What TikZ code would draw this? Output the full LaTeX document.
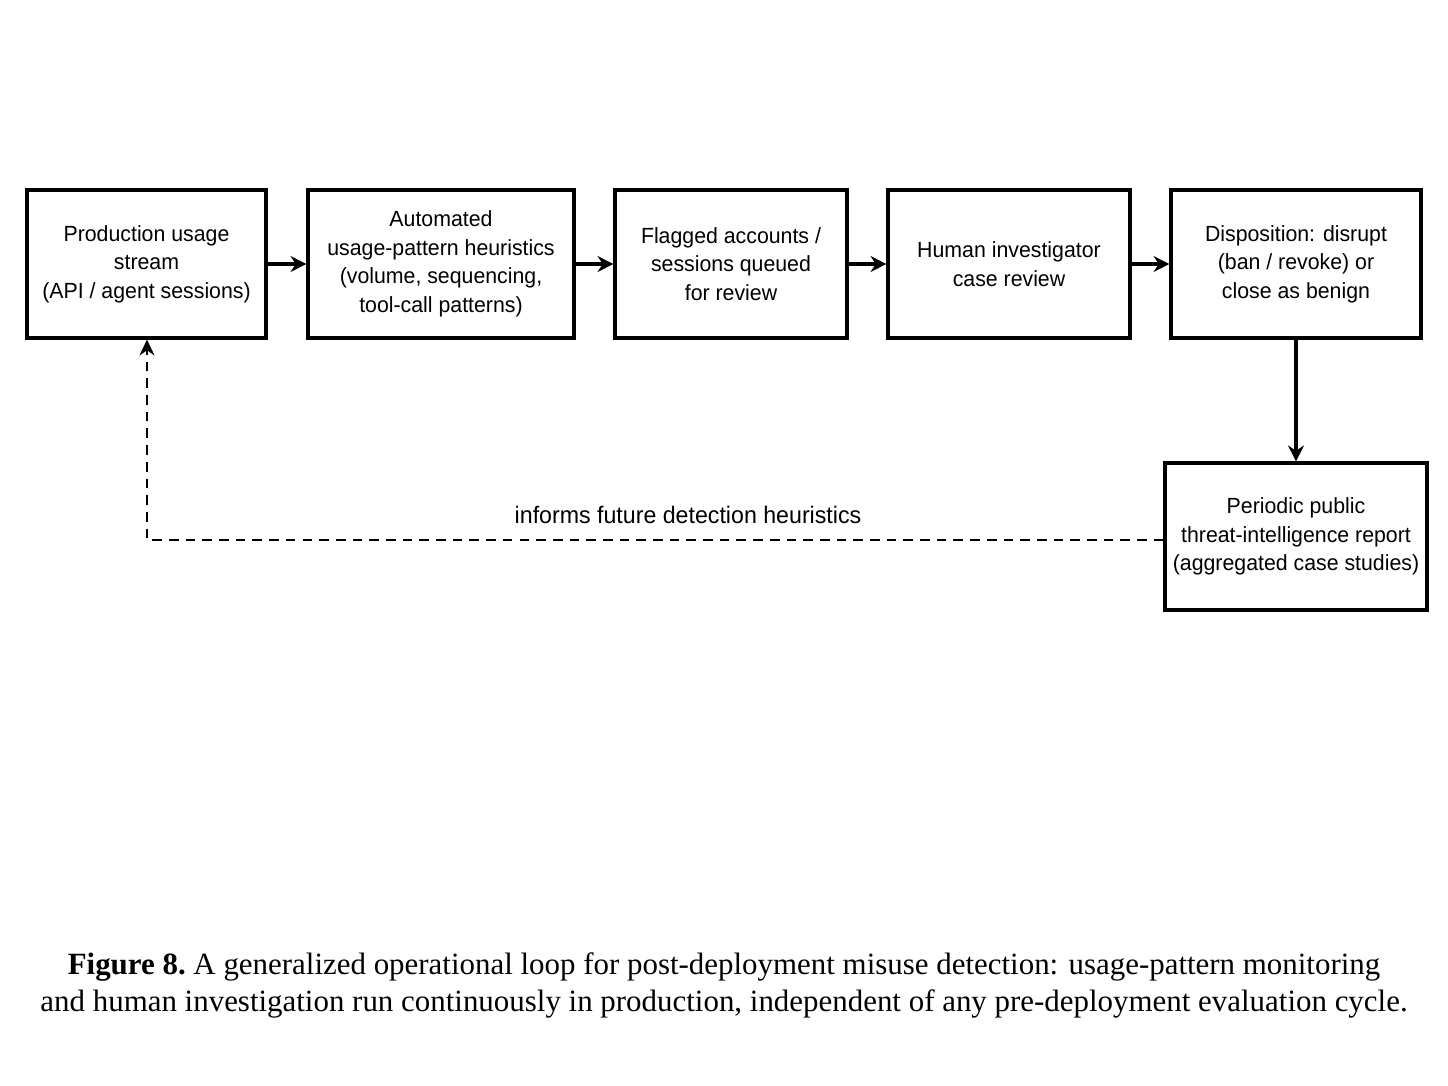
\documentclass[tikz,border=0pt]{standalone}
\usepackage{fontspec}
\setmainfont{Liberation Serif}
\setsansfont{Liberation Sans}[FakeStretch=0.97]
\usetikzlibrary{arrows.meta}
\begin{document}
\begin{tikzpicture}[x=0.02cm,y=-0.02cm,
  stagebox/.style={draw, line width=1.8pt, rectangle, align=center, inner sep=0pt,
    font=\sffamily\fontsize{12.5}{16.2}\selectfont},
  flow/.style={line width=1.8pt, -{Stealth[length=9pt,width=9pt]}},
  feedback/.style={line width=1.1pt, dash pattern=on 5.5pt off 4pt, -{Stealth[length=9pt,width=8.5pt]}}]
\useasboundingbox[fill=white] (0,0) rectangle (1448,1086);
\node[stagebox, minimum width=239*0.02cm, minimum height=148*0.02cm] (b1) at (146.5,264) {Production usage\\stream\\(API / agent sessions)};
\node[stagebox, minimum width=266*0.02cm, minimum height=148*0.02cm] (b2) at (441,264) {Automated\\usage-pattern heuristics\\(volume, sequencing,\\tool-call patterns)};
\node[stagebox, minimum width=232*0.02cm, minimum height=148*0.02cm] (b3) at (731,264) {Flagged accounts /\\sessions queued\\for review};
\node[stagebox, minimum width=242*0.02cm, minimum height=148*0.02cm] (b4) at (1009,264) {Human investigator\\case review};
\node[stagebox, minimum width=250*0.02cm, minimum height=148*0.02cm] (b5) at (1296,264) {Disposition: disrupt\\(ban / revoke) or\\close as benign};
\node[stagebox, minimum width=262*0.02cm, minimum height=147*0.02cm] (b6) at (1296,536.5) {Periodic public\\threat-intelligence report\\(aggregated case studies)};
\draw[flow] (b1) -- (b2);
\draw[flow] (b2) -- (b3);
\draw[flow] (b3) -- (b4);
\draw[flow] (b4) -- (b5);
\draw[flow] (b5) -- (b6);
\coordinate (corner) at (147,540);
\draw[feedback] (b6.west |- corner) -- (corner) -- (corner |- b1.south);
\node[font=\sffamily\fontsize{13.6}{16}\selectfont] (lbl) at (688,515) {informs future detection heuristics};
\node[align=center, font=\fontsize{17.6}{21}\selectfont] (cap) at (724,985) {\textbf{Figure 8.}\ A generalized operational loop for post-deployment misuse detection: usage-pattern monitoring\\and human investigation run continuously in production, independent of any pre-deployment evaluation cycle.};
\end{tikzpicture}
\end{document}
